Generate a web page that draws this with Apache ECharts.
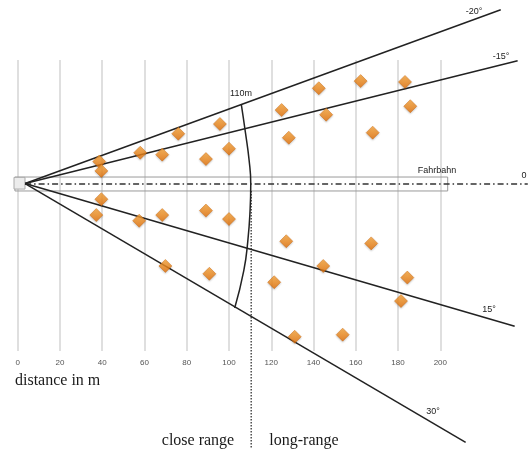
<!DOCTYPE html>
<html>
<head>
<meta charset="utf-8">
<script src="https://cdn.jsdelivr.net/npm/echarts@6/dist/echarts.min.js"></script>
<style>html,body{margin:0;padding:0;background:#fff;}#c{width:528px;height:452px;}</style>
</head>
<body>
<div id="c"></div>
<script>
// distance axis ticks (m)
const xTicks = [0, 20, 40, 60, 80, 100, 120, 140, 160, 180, 200];
// object detections (x = distance m, y = lateral offset m)
const diamondX = [38.6, 39.6, 58.0, 68.4, 76.0, 95.7, 89.1, 100.0, 39.6, 37.2, 57.5, 68.4, 89.1, 100.0,
  124.9, 142.5, 162.3, 183.3, 128.3, 146.0, 168.0, 185.8, 69.9, 90.7, 127.1, 167.3, 144.6, 121.4, 184.4, 181.4, 131.1, 153.8];
const diamondY = [10.6, 6.2, 14.8, 13.9, 23.8, 28.4, 11.8, 16.7, -7.2, -14.7, -17.4, -14.7, -12.6, -16.6,
  35.0, 45.3, 48.7, 48.3, 21.9, 32.8, 24.3, 36.8, -38.8, -42.5, -27.1, -28.1, -38.8, -46.5, -44.3, -55.4, -72.3, -71.3];
// sensor rays
const rayNames = ['-20°', '-15°', '15°', '30°'];
const rayOrigin = [3.5, 0.2];
const rayEndX = [228.6, 236.6, 235.2, 212.0];
const rayEndY = [82.5, 58.3, -67.3, -122.3];
// 110 m range arc
const arcX = [105.8, 107.8, 109.5, 110.3, 110.0, 108.9, 107.0, 102.7];
const arcY = [37.8, 24.2, 11.4, 0, -12.0, -27.0, -41.0, -58.7];
const closeRangeLimit = 110.5;
const dottedY = [-3.3, -124.9];
// road (Fahrbahn)
const roadX = [-1.3, 203.5];
const roadY = [3.3, -3.3];
const sensorX = [-1.75, 3.46];
const sensorY = [3.15, -2.4];
const centerLineX = [3.5, 241.4];

const chart = echarts.init(document.getElementById('c'), null, {renderer: 'canvas'});

const black = '#222';
const series = [];
const onFull = {xAxisIndex: 1, yAxisIndex: 1};

// road box + sensor box
series.push(Object.assign({
  type: 'custom', silent: true, clip: false, z: 1,
  data: [[0]],
  renderItem: function (params, api) {
    const a = api.coord([roadX[0], roadY[0]]);
    const b = api.coord([roadX[1], roadY[1]]);
    const s1 = api.coord([sensorX[0], sensorY[0]]);
    const s2 = api.coord([sensorX[1], sensorY[1]]);
    return {
      type: 'group',
      children: [
        {type: 'rect', shape: {x: a[0], y: a[1], width: b[0] - a[0], height: b[1] - a[1]},
          style: {fill: 'none', stroke: '#9a9a9a', lineWidth: 1}},
        {type: 'rect', shape: {x: s1[0], y: s1[1], width: s2[0] - s1[0], height: s2[1] - s1[1]},
          style: {fill: '#ececec', stroke: '#aaa', lineWidth: 1}}
      ]
    };
  }
}, onFull));

// centerline
series.push(Object.assign({
  type: 'line', symbol: 'none', silent: true, z: 2,
  data: [[centerLineX[0], 0], [centerLineX[1], 0]],
  lineStyle: {color: '#333', width: 1.3, type: [6, 3, 1.5, 3]}
}, onFull));

// dotted separator
series.push(Object.assign({
  type: 'line', symbol: 'none', silent: true, z: 2,
  data: [[closeRangeLimit, dottedY[0]], [closeRangeLimit, dottedY[1]]],
  lineStyle: {color: '#333', width: 1.3, type: [1.5, 1.5]}
}, onFull));

// rays
for (let i = 0; i < rayNames.length; i++) {
  series.push(Object.assign({
    type: 'line', name: rayNames[i], symbol: 'none', silent: true, z: 3,
    data: [[rayOrigin[0], rayOrigin[1]], [rayEndX[i], rayEndY[i]]],
    lineStyle: {color: black, width: 1.5}
  }, onFull));
}

// arc
series.push(Object.assign({
  type: 'line', symbol: 'none', silent: true, z: 3, smooth: 0.5,
  data: arcX.map((x, i) => [x, arcY[i]]),
  lineStyle: {color: black, width: 1.5}
}, onFull));

// diamonds
series.push(Object.assign({
  type: 'scatter', z: 5, symbol: 'diamond', symbolSize: [13, 13],
  data: diamondX.map((x, i) => [x, diamondY[i]]),
  itemStyle: {
    color: new echarts.graphic.LinearGradient(0, 0, 0, 1, [
      {offset: 0, color: '#ffab3c'},
      {offset: 1, color: '#e26e05'}
    ]),
    borderColor: '#cf680a', borderWidth: 0.6,
    shadowColor: 'rgba(0,0,0,0.25)', shadowBlur: 2, shadowOffsetY: 1
  }
}, onFull));

const txt = (x, y, text, size, family, color, align) => ({
  type: 'text', x: x, y: y, silent: true, z: 100,
  style: {text: text, fontSize: size, fontFamily: family, fill: color || '#222',
    align: align || 'center', verticalAlign: 'middle'}
});

const sans = 'Liberation Sans, Arial, sans-serif';
const serif = 'Liberation Serif, Times New Roman, serif';
const pxPerM = 2.113;

chart.setOption({
  animation: false,
  backgroundColor: '#fff',
  grid: [
    {left: 17.7, width: 200 * pxPerM, top: 60, height: 291, containLabel: false},
    {left: 0, right: 0, top: 0, bottom: 0, containLabel: false}
  ],
  xAxis: [{
    type: 'value', gridIndex: 0, min: xTicks[0], max: xTicks[xTicks.length - 1], interval: 20,
    axisLine: {show: false}, axisTick: {show: false},
    axisLabel: {fontSize: 8, color: '#555', fontFamily: sans, margin: 8},
    splitLine: {show: true, lineStyle: {color: '#d4d4d4', width: 1.5}}
  }, {
    type: 'value', gridIndex: 1, show: false, splitLine: {show: false},
    min: -17.7 / pxPerM, max: (528 - 17.7) / pxPerM
  }],
  yAxis: [{
    type: 'value', gridIndex: 0, min: -167 / pxPerM, max: 124 / pxPerM, show: false,
    splitLine: {show: false}
  }, {
    type: 'value', gridIndex: 1, show: false, splitLine: {show: false},
    min: -(452 - 184) / pxPerM, max: 184 / pxPerM
  }],
  series: series,
  graphic: [
    txt(474, 12, rayNames[0], 9, sans, '#222'),
    txt(501, 57, rayNames[1], 9, sans, '#222'),
    txt(489, 310, rayNames[2], 9, sans, '#222'),
    txt(433, 412, rayNames[3], 9, sans, '#222'),
    txt(241, 94, '110m', 9, sans, '#222'),
    txt(437, 171, 'Fahrbahn', 9, sans, '#222'),
    txt(524, 176, '0', 9, sans, '#222'),
    txt(15, 381, 'distance in m', 16, serif, '#1a1a1a', 'left'),
    txt(198, 441, 'close range', 16, serif, '#1a1a1a'),
    txt(304, 441, 'long-range', 16, serif, '#1a1a1a')
  ]
});
</script>
</body>
</html>
